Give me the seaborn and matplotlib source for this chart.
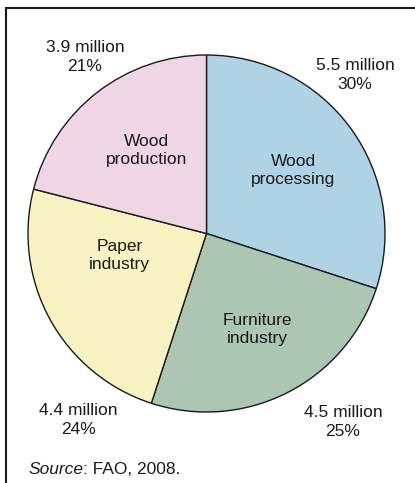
import matplotlib
matplotlib.use("Agg")
import matplotlib.pyplot as plt
import seaborn as sns

sectors = ["Wood\nprocessing", "Furniture\nindustry", "Paper\nindustry", "Wood\nproduction"]
jobs = ["5.5 million", "4.5 million", "4.4 million", "3.9 million"]
shares = [30, 25, 24, 21]
colors = ["#afd3e4", "#adc5b3", "#f8f2c3", "#f0d5e4"]

sns.set_theme(style="white")
plt.rcParams["font.family"] = ["Liberation Sans", "DejaVu Sans"]

fig = plt.figure(figsize=(4.15, 4.83), dpi=100)
ax = fig.add_axes([0, 0, 1, 1])

cx, cy, r = 206.5, 249.5, 178.5
ax.pie(shares, colors=colors, startangle=90, counterclock=False,
       center=(cx, cy), radius=r, frame=True,
       wedgeprops=dict(edgecolor="#1a1a1a", linewidth=1.0))
ax.set_xlim(0, 415)
ax.set_ylim(0, 483)
ax.axis("off")

fs = 12.5
txt = "#1a1a1a"

# inner sector names (pixel offsets from pie centre)
inner_pos = [(87, 63), (51, -96), (-87, -22), (-60, 83)]
for name, (dx, dy) in zip(sectors, inner_pos):
    ax.text(cx + dx, cy + dy, name, ha="center", va="center",
            fontsize=fs, color=txt, linespacing=1.3)

# outer value labels
outer_pos = [(355, 408), (343, 61), (78, 63), (85, 426)]
for j, s, (x, y) in zip(jobs, shares, outer_pos):
    ax.text(x, y, f"{j}\n{s}%", ha="center", va="center",
            fontsize=fs, color=txt, linespacing=1.3)

src = ax.text(28, 9, "Source", ha="left", va="baseline",
              fontsize=fs, color=txt, style="italic")
ax.annotate(": FAO, 2008.", xy=(1, 0), xycoords=src, ha="left",
            va="bottom", fontsize=fs, color=txt)

# frame: top and left only
ax.plot([6, 6, 415], [-5, 475, 475], color="#1a1a1a", linewidth=1.5,
        solid_joinstyle="miter")

fig.savefig("out.png", dpi=100)
